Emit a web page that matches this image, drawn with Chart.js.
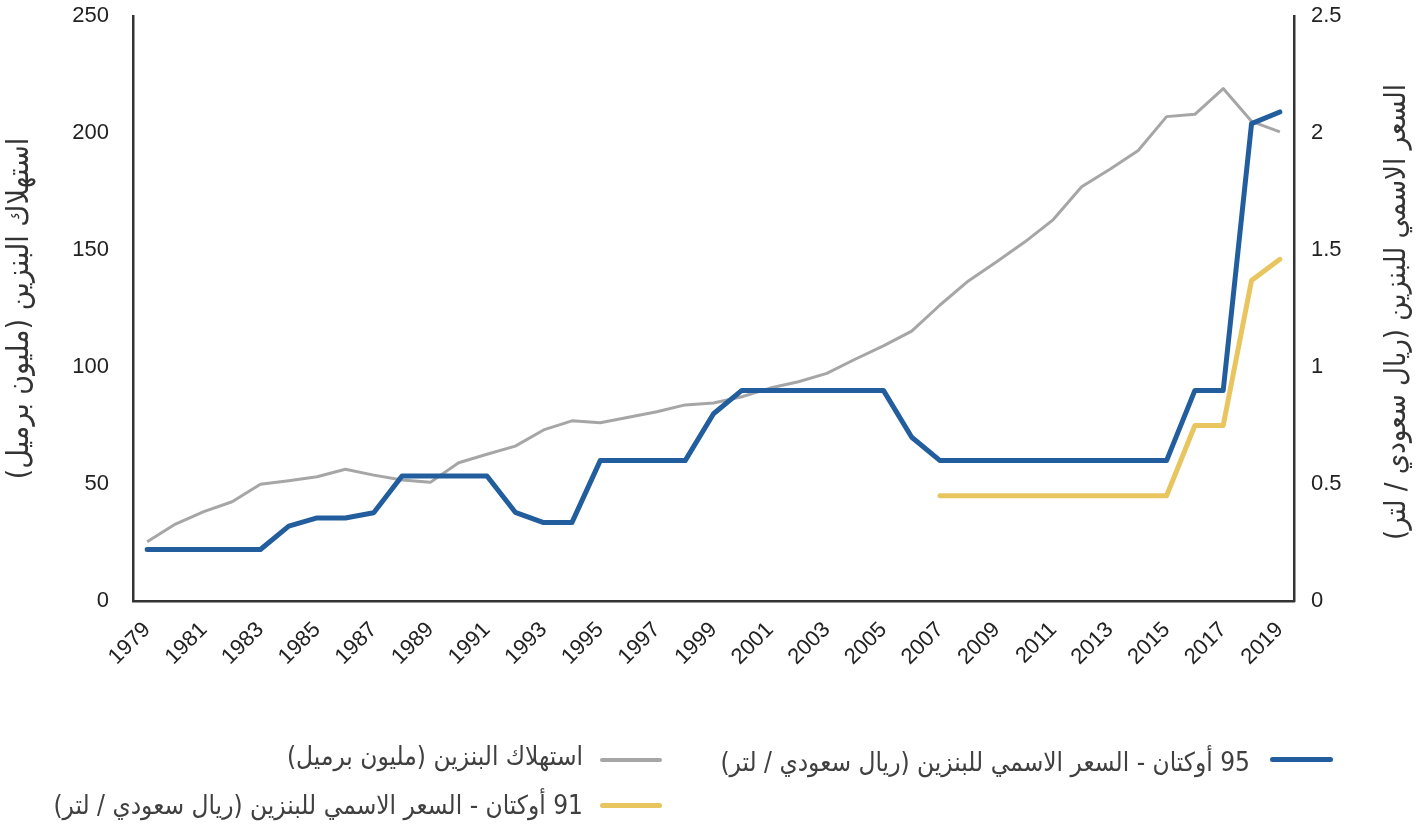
<!DOCTYPE html>
<html lang="ar">
<head>
<meta charset="utf-8">
<script src="https://cdn.jsdelivr.net/npm/chart.js@4.4.1/dist/chart.umd.min.js"></script>
<style>
  html, body { margin: 0; padding: 0; background: #fff; }
  #wrap { position: relative; width: 1424px; height: 828px; overflow: hidden; }
  #c { position: absolute; left: 0; top: 0; }
  .lg { position: absolute; direction: rtl; white-space: nowrap; font-family: "DejaVu Sans Condensed", "DejaVu Sans", sans-serif; font-size: 26px; line-height: 30px; color: #404040; }
  .sw { position: absolute; height: 5px; border-radius: 3px; }
</style>
</head>
<body>
<div id="wrap">
  <canvas id="c" width="1424" height="828"></canvas>
  <div class="sw" style="left:1270px; top:757px; width:63px; background:#225E9D;"></div>
  <div class="lg" id="lg1" style="right:174px; top:747px;">95 أوكتان - السعر الاسمي للبنزين (ريال سعودي / لتر)</div>
  <div class="sw" style="left:600px; top:758px; width:62px; height:4px; background:#A6A6A6;"></div>
  <div class="lg" id="lg2" style="right:841px; top:741px;">استهلاك البنزين (مليون برميل)</div>
  <div class="sw" style="left:600px; top:803px; width:62px; background:#E8C55E;"></div>
  <div class="lg" id="lg3" style="right:841px; top:790px;">91 أوكتان - السعر الاسمي للبنزين (ريال سعودي / لتر)</div>
</div>
<script>
const years = ["1979","1980","1981","1982","1983","1984","1985","1986","1987","1988","1989","1990","1991","1992","1993","1994","1995","1996","1997","1998","1999","2000","2001","2002","2003","2004","2005","2006","2007","2008","2009","2010","2011","2012","2013","2014","2015","2016","2017","2018","2019"];

const consumption = [25.3,32.9,38.2,42.4,49.9,51.4,53.1,56.3,53.8,51.7,50.7,59.1,62.7,66.2,73.1,77.0,76.2,78.5,80.9,83.8,84.6,87.3,91.0,93.7,97.3,103.3,109.0,115.3,126.5,136.8,145.0,153.5,163.0,177.0,184.5,192.5,207.0,208.0,219.0,205.0,200.5];

const price95 = [0.22,0.22,0.22,0.22,0.22,0.32,0.355,0.355,0.377,0.534,0.534,0.534,0.534,0.379,0.335,0.335,0.60,0.60,0.60,0.60,0.80,0.90,0.90,0.90,0.90,0.90,0.90,0.70,0.60,0.60,0.60,0.60,0.60,0.60,0.60,0.60,0.60,0.90,0.90,2.04,2.09];

const price91 = [null,null,null,null,null,null,null,null,null,null,null,null,null,null,null,null,null,null,null,null,null,null,null,null,null,null,null,null,0.45,0.45,0.45,0.45,0.45,0.45,0.45,0.45,0.45,0.75,0.75,1.37,1.46];

const seriesNames = {
  consumption: "استهلاك البنزين (مليون برميل)",
  p95: "95 أوكتان - السعر الاسمي للبنزين (ريال سعودي / لتر)",
  p91: "91 أوكتان - السعر الاسمي للبنزين (ريال سعودي / لتر)"
};
const leftTitle = "استهلاك البنزين (مليون برميل)";
const rightTitle = "السعر الاسمي للبنزين (ريال سعودي / لتر)";

const arabicFont = '"DejaVu Sans Condensed", "DejaVu Sans", sans-serif';
const numFont = '"Liberation Sans", Arial, sans-serif';

const rightTitlePlugin = {
  id: 'rightTitle',
  afterDraw(chart) {
    const ctx = chart.ctx;
    ctx.save();
    ctx.translate(1397, 312);
    ctx.rotate(-Math.PI / 2);
    ctx.font = '29px ' + arabicFont;
    ctx.fillStyle = '#333333';
    ctx.textAlign = 'center';
    ctx.textBaseline = 'middle';
    ctx.fillText(rightTitle, 0, 0);
    ctx.restore();
  }
};

function noTopPad(s) { s.paddingTop = 0; }

new Chart(document.getElementById('c'), {
  type: 'line',
  data: {
    labels: years,
    datasets: [
      { label: seriesNames.p95, data: price95, yAxisID: 'y1', borderColor: '#225E9D', backgroundColor: '#225E9D', borderWidth: 5, pointRadius: 0, tension: 0, borderCapStyle: 'round', borderJoinStyle: 'round', order: 0 },
      { label: seriesNames.p91, data: price91, yAxisID: 'y1', borderColor: '#E8C55E', backgroundColor: '#E8C55E', borderWidth: 5, pointRadius: 0, tension: 0, borderCapStyle: 'round', borderJoinStyle: 'round', order: 1 },
      { label: seriesNames.consumption, data: consumption, yAxisID: 'y', borderColor: '#A6A6A6', backgroundColor: '#A6A6A6', borderWidth: 3, pointRadius: 0, tension: 0, borderJoinStyle: 'round', order: 2 }
    ]
  },
  options: {
    responsive: false,
    animation: false,
    devicePixelRatio: 1,
    layout: { padding: { top: 16, right: 0, bottom: 0, left: 0 } },
    plugins: { legend: { display: false }, tooltip: { enabled: false } },
    scales: {
      x: {
        offset: true,
        grid: { display: false, drawTicks: false },
        border: { display: true, color: '#333333', width: 2.5 },
        ticks: {
          autoSkip: false, maxRotation: 45, minRotation: 45, padding: 16,
          color: '#222222', font: { family: numFont, size: 22 },
          callback: function(v, i) { return i % 2 === 0 ? years[i] : null; }
        },
        afterFit: s => { s.height = 227; noTopPad(s); }
      },
      y: {
        position: 'left', min: 0, max: 250,
        grid: { display: false, drawTicks: false },
        border: { display: true, color: '#333333', width: 2.5 },
        ticks: { stepSize: 50, padding: 24, color: '#222222', font: { family: numFont, size: 22 } },
        title: { display: true, text: leftTitle, color: '#333333', font: { family: arabicFont, size: 30 }, padding: { top: 2, bottom: 0 } },
        afterFit: s => { s.width = 133; noTopPad(s); }
      },
      y1: {
        position: 'right', min: 0, max: 2.5,
        grid: { display: false, drawTicks: false },
        border: { display: true, color: '#333333', width: 2.5 },
        ticks: { stepSize: 0.5, padding: 17, color: '#222222', font: { family: numFont, size: 22 },
          callback: v => String(Number(v.toFixed(1))) },
        afterFit: s => { s.width = 130; noTopPad(s); }
      }
    }
  },
  plugins: [rightTitlePlugin]
});
</script>
</body>
</html>
